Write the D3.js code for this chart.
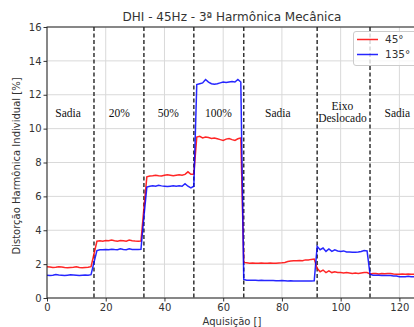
<!DOCTYPE html>
<html><head><meta charset="utf-8">
<script src="https://cdn.jsdelivr.net/npm/d3@7"></script>
<style>body{margin:0;background:#fff}svg{display:block}</style>
</head><body>
<script>
const title = "DHI - 45Hz - 3ª Harmônica Mecânica";
const xLabel = "Aquisição []";
const yLabel = "Distorção Harmônica Individual [%]";
const xTicks = [0,20,40,60,80,100,120];
const yTicks = [0,2,4,6,8,10,12,14,16];
const seriesNames = ["45°","135°"];
const seriesColors = ["#ff0000","#0000ff"];
const dividers = [16,33,50,67,92,110];
const segmentLabels = [["Sadia"],["20%"],["50%"],["100%"],["Sadia"],["Eixo","Deslocado"],["Sadia"]];
const segmentCenters = [7.2,24.6,41.3,58.4,78.6,100.6,119.3];

const red45 = [
 1.85,1.83,1.80,1.82,1.85,1.83,1.80,1.78,1.80,1.82,1.85,1.80,1.78,1.80,1.82,1.85,
 2.6,3.35,3.38,3.35,3.40,3.38,3.42,3.38,3.35,3.40,3.38,3.35,3.42,3.38,3.36,3.35,3.36,
 5.3,7.15,7.2,7.22,7.25,7.22,7.2,7.25,7.28,7.25,7.22,7.25,7.28,7.25,7.3,7.45,7.3,
 7.3,9.5,9.55,9.45,9.5,9.48,9.42,9.45,9.4,9.35,9.3,9.38,9.42,9.35,9.3,9.4,9.45,
 2.1,2.08,2.05,2.07,2.05,2.05,2.06,2.05,2.05,2.06,2.05,2.05,2.07,2.08,2.1,2.15,2.18,2.2,2.2,2.22,2.2,2.25,2.25,2.28,2.3,
 1.75,1.55,1.65,1.5,1.6,1.5,1.55,1.5,1.5,1.48,1.5,1.48,1.45,1.47,1.45,1.48,1.5,1.5,
 1.42,1.45,1.45,1.42,1.45,1.43,1.45,1.45,1.42,1.4,1.4,1.42,1.4,1.42,1.4,1.4,1.4
];
const blue135 = [
 1.35,1.33,1.35,1.38,1.36,1.35,1.33,1.35,1.37,1.36,1.35,1.33,1.35,1.36,1.35,1.38,
 2.1,2.8,2.85,2.85,2.87,2.85,2.88,2.86,2.85,2.9,2.87,2.85,2.9,2.87,2.86,2.87,2.88,
 4.8,6.55,6.6,6.62,6.6,6.65,6.62,6.6,6.58,6.6,6.62,6.6,6.62,6.6,6.75,6.6,6.5,
 6.6,12.6,12.65,12.7,12.9,12.75,12.65,12.62,12.65,12.7,12.75,12.72,12.75,12.78,12.75,12.9,12.75,
 1.1,1.05,1.05,1.05,1.05,1.04,1.05,1.04,1.03,1.04,1.03,1.02,1.02,1.03,1.02,1.01,1.02,1.01,1.0,1.01,1.0,1.0,1.0,1.0,1.02,
 3.05,2.85,2.95,2.75,2.9,2.75,2.85,2.78,2.75,2.78,2.72,2.72,2.7,2.7,2.72,2.75,2.8,2.78,
 1.4,1.35,1.35,1.35,1.33,1.33,1.33,1.33,1.3,1.3,1.25,1.25,1.25,1.28,1.25,1.25,1.25
];
const seriesValues = [red45, blue135];

const W = 414, H = 327;
const x = d3.scaleLinear().domain([0,126]).range([47,417]);
const y = d3.scaleLinear().domain([0,16]).range([298,27]);
const svg = d3.select("body").append("svg").attr("width",W).attr("height",H)
  .style("font-family","'DejaVu Sans', sans-serif");

svg.append("defs").append("clipPath").attr("id","clip")
  .append("rect").attr("x",47).attr("y",27).attr("width",370).attr("height",271);

// grid
const g = svg.append("g");
g.selectAll(".gx").data(xTicks).join("line")
  .attr("x1",d=>x(d)).attr("x2",d=>x(d)).attr("y1",y(16)).attr("y2",y(0))
  .attr("stroke","#d9d9d9").attr("stroke-width",1);
g.selectAll(".gy").data(yTicks).join("line")
  .attr("x1",x(0)).attr("x2",x(126)).attr("y1",d=>y(d)).attr("y2",d=>y(d))
  .attr("stroke","#d9d9d9").attr("stroke-width",1);

// dividers
g.selectAll(".dv").data(dividers).join("line")
  .attr("x1",d=>x(d)).attr("x2",d=>x(d)).attr("y1",y(16)).attr("y2",y(0))
  .attr("stroke","#333").attr("stroke-width",1.5).attr("stroke-dasharray","4,2.5");

// lines
const line = d3.line().x((d,i)=>x(i)).y(d=>y(d));
const lg = svg.append("g").attr("clip-path","url(#clip)");
seriesValues.forEach((vals,k)=>{
  lg.append("path").datum(vals).attr("d",line).attr("fill","none")
    .attr("stroke",seriesColors[k]).attr("stroke-width",1.5).attr("stroke-opacity",0.85);
});

// segment labels
segmentLabels.forEach((lines,k)=>{
  const t = svg.append("text").attr("text-anchor","middle")
    .style("font-family","'Liberation Serif','DejaVu Serif',serif").style("font-size","11.5px").attr("fill","#111");
  if(lines.length===1){
    t.append("tspan").attr("x",x(segmentCenters[k])).attr("y",y(10.9)+4).text(lines[0]);
  } else {
    t.append("tspan").attr("x",x(segmentCenters[k])).attr("y",y(11.35)+4).text(lines[0]);
    t.append("tspan").attr("x",x(segmentCenters[k])).attr("y",y(10.65)+4).text(lines[1]);
  }
});

// axes
const xa = svg.append("g").attr("transform",`translate(0,${y(0)})`)
  .call(d3.axisBottom(x).tickValues(xTicks).tickSize(3.5).tickPadding(2));
const ya = svg.append("g").attr("transform",`translate(${x(0)},0)`)
  .call(d3.axisLeft(y).tickValues(yTicks).tickSize(3.5).tickPadding(2));
[xa,ya].forEach(a=>{
  a.select(".domain").remove();
  a.selectAll("text").style("font-size","10px").style("font-family","'DejaVu Sans', sans-serif").attr("fill","#333");
  a.selectAll("line").attr("stroke","#333");
});
// frame
svg.append("rect").attr("x",x(0)).attr("y",y(16)).attr("width",x(126)-x(0)).attr("height",y(0)-y(16))
  .attr("fill","none").attr("stroke","#222").attr("stroke-width",1);

// title & labels
svg.append("text").attr("x",232).attr("y",21).attr("text-anchor","middle")
  .style("font-size","12px").attr("fill","#333").text(title);
svg.append("text").attr("x",232).attr("y",325).attr("text-anchor","middle")
  .style("font-size","10px").attr("fill","#333").text(xLabel);
svg.append("text").attr("transform","translate(20,166) rotate(-90)").attr("text-anchor","middle")
  .style("font-size","10px").attr("fill","#333").text(yLabel);

// legend
const leg = svg.append("g");
leg.append("rect").attr("x",353.5).attr("y",31.5).attr("width",64).attr("height",34).attr("rx",2.5)
  .attr("fill","#fff").attr("fill-opacity",0.8).attr("stroke","#ccc");
seriesNames.forEach((n,k)=>{
  const yy = 39.5 + k*15;
  leg.append("line").attr("x1",357).attr("x2",378).attr("y1",yy).attr("y2",yy)
    .attr("stroke",seriesColors[k]).attr("stroke-width",1.5).attr("stroke-opacity",0.85);
  leg.append("text").attr("x",385).attr("y",yy+3.8).style("font-size","10.5px").attr("fill","#333").text(n);
});
</script>
</body></html>
